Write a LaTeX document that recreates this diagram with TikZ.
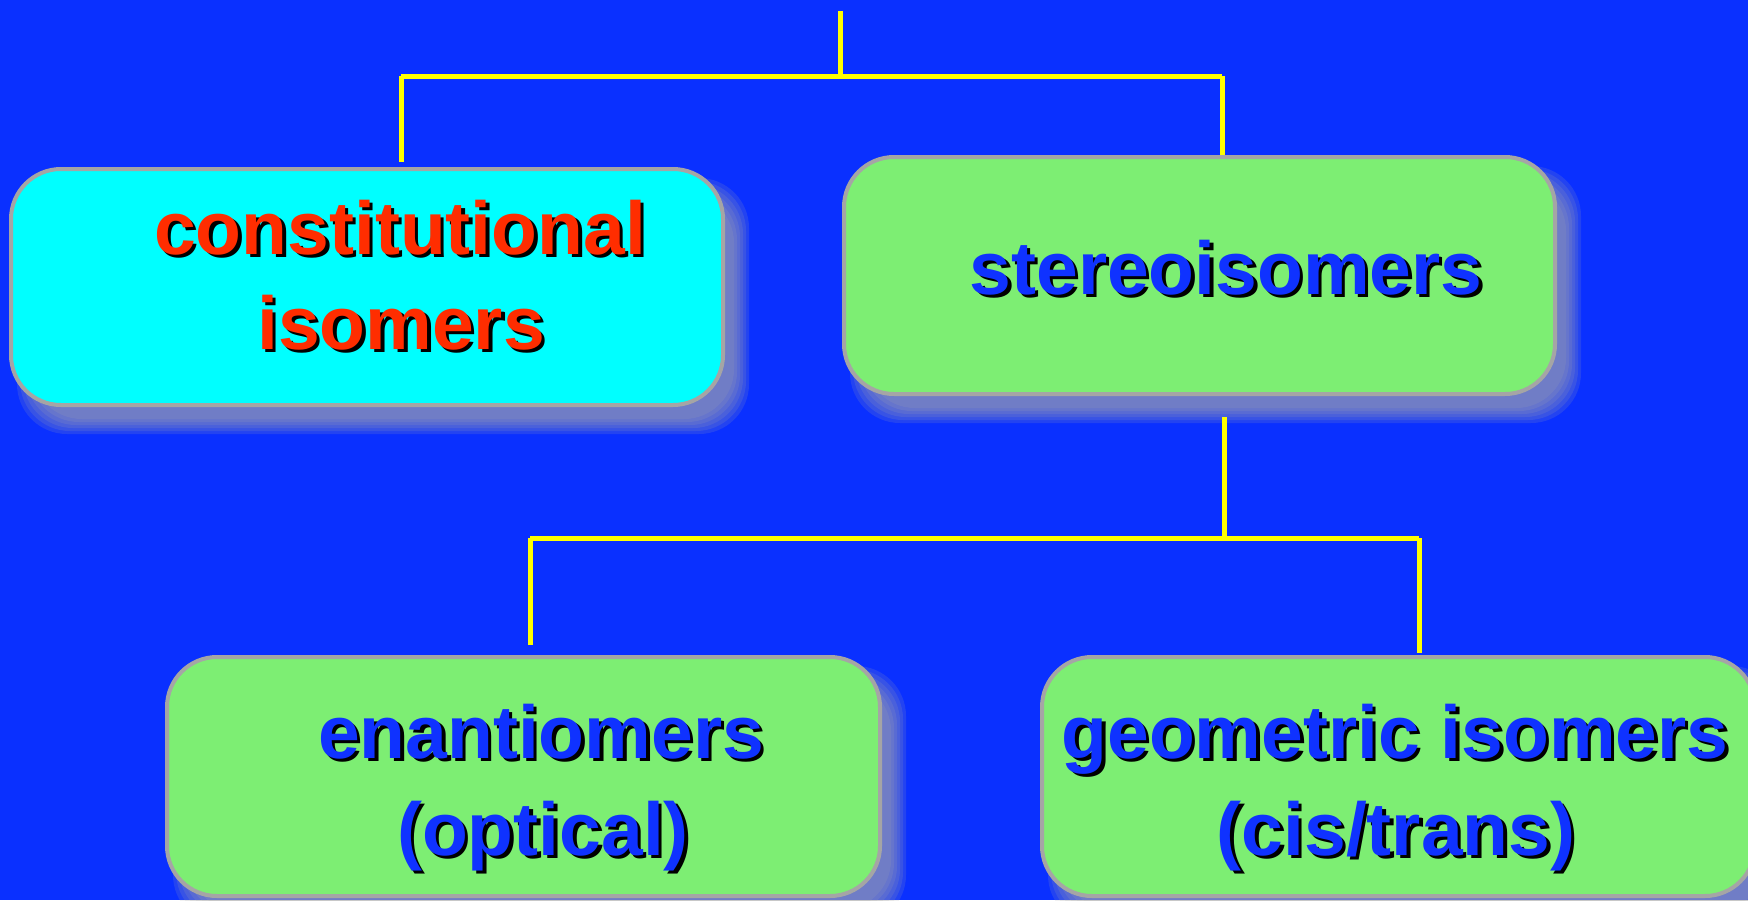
\documentclass[tikz,border=0pt]{standalone}
\usepackage{fontspec}
\setmainfont{Liberation Sans}
\usetikzlibrary{backgrounds}
\definecolor{bgblue}{RGB}{10,48,255}
\definecolor{boxgreen}{RGB}{125,238,115}
\definecolor{boxcyan}{RGB}{0,255,255}
\definecolor{rimgray}{RGB}{165,165,165}
\definecolor{shadgray}{RGB}{170,170,170}
\definecolor{txtred}{RGB}{255,45,0}
\definecolor{txtblue}{RGB}{15,50,255}
\definecolor{linkyellow}{RGB}{255,255,0}
\newcommand\shd[2]{\makebox[0pt][l]{\hspace{3.5pt}\raisebox{-3.5pt}{\color{black}#2}}{\color{#1}#2}}
\begin{document}
\begin{tikzpicture}[x=1pt,y=-1pt,
  box/.style={draw=rimgray, line width=4pt, rounded corners=50pt, inner sep=0pt},
  lbl/.style={font=\fontsize{75}{90}\selectfont\bfseries, anchor=base, inner sep=0pt},
  link/.style={draw=linkyellow, line width=5pt},
]
\useasboundingbox (0,0) rectangle (1748,900);

% boxes
\node[box, fill=boxcyan, minimum width=712pt, minimum height=236pt] (cons) at (367,287) {};
\node[box, fill=boxgreen, minimum width=711pt, minimum height=237pt] (stereo) at (1199.5,275.5) {};
\node[box, fill=boxgreen, minimum width=713pt, minimum height=239pt] (enant) at (523.5,776.5) {};
\node[box, fill=boxgreen, minimum width=713pt, minimum height=239pt] (geo) at (1398.5,776.5) {};

\begin{scope}[on background layer]
  \fill[bgblue] (0,0) rectangle (1748,900);
  \foreach \n in {cons,stereo,enant,geo} {
    \foreach \d in {8,5,2,-1,-4,-7} {
      \fill[shadgray, fill opacity=0.16, rounded corners=50pt]
        ([shift={(16-\d,19-\d)}]\n.north west) rectangle ([shift={(16+\d,19+\d)}]\n.south east);
    }
  }
\end{scope}

% texts
\node[lbl] (t1) at (400,254) {\shd{txtred}{constitutional}};
\node[lbl] (t2) at (401,349) {\shd{txtred}{isomers}};
\node[lbl] (t3) at (1226,294) {\shd{txtblue}{stereoisomers}};
\node[lbl] (t4) at (541,758) {\shd{txtblue}{enantiomers}};
\node[lbl] (t5) at (543,855) {\shd{txtblue}{(optical)}};
\node[lbl] (t6) at (1395,758) {\shd{txtblue}{geometric isomers}};
\node[lbl] (t7) at (1396,855) {\shd{txtblue}{(cis/trans)}};

% connectors
\coordinate (root) at (840,11);
\coordinate (j1) at (840,76);
\coordinate (j1l) at (401,76);
\coordinate (j1r) at (1222,76);
\coordinate (consTop) at (401,162);
\coordinate (stereoTop) at (1222,155);
\coordinate (s1) at (1224,417);
\coordinate (j2) at (1224,538);
\coordinate (j2l) at (530,538);
\coordinate (j2r) at (1419,538);
\coordinate (enantTop) at (530,645);
\coordinate (geoTop) at (1419,653);

\draw[link] (root) -- (j1);
\draw[link] (j1l) -- (j1r);
\draw[link] (j1l) -- (consTop);
\draw[link] (j1r) -- (stereoTop);
\draw[link] (s1) -- (j2);
\draw[link] (j2l) -- (j2r);
\draw[link] (j2l) -- (enantTop);
\draw[link] (j2r) -- (geoTop);
\end{tikzpicture}
\end{document}
